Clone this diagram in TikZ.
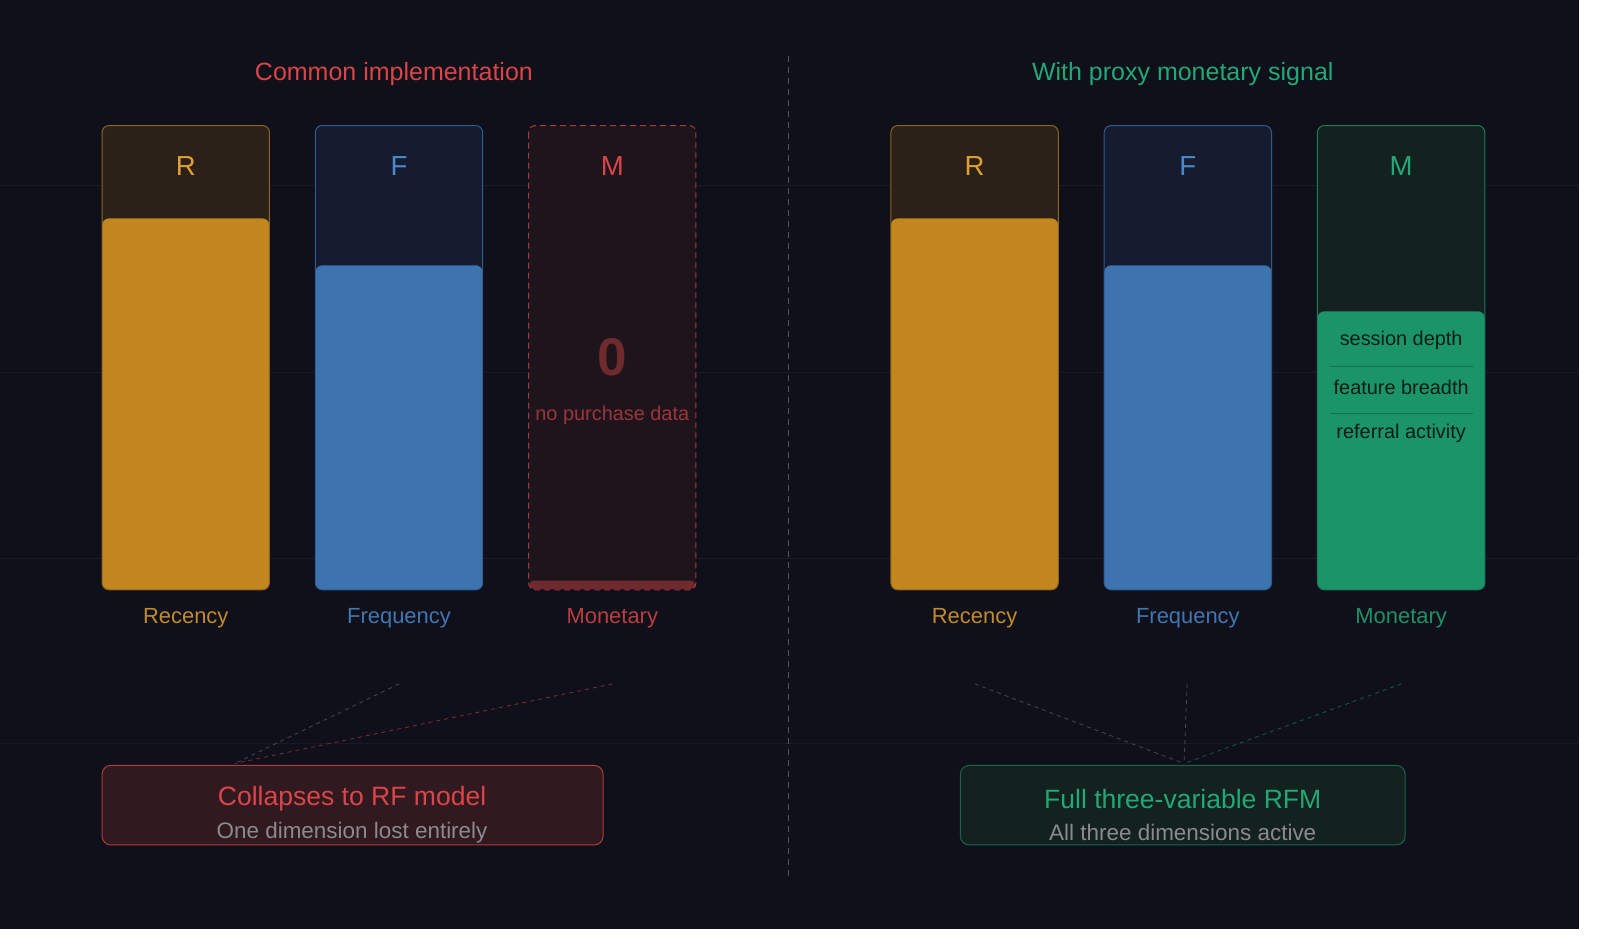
\documentclass[tikz,border=0pt]{standalone}
\usepackage{fontspec}
\setmainfont{Liberation Sans}
\begin{document}
\begin{tikzpicture}[x=1pt,y=-1pt,
  colbox/.style={rounded corners=7pt,line width=1pt},
  lab/.style={font=\fontsize{21.5}{23}\selectfont},
  hdr/.style={font=\fontsize{27}{29}\selectfont},
  conn/.style={dashed,dash pattern=on 4pt off 4pt,line width=0.8pt}]
\definecolor{bgd}{HTML}{0F1019}
\definecolor{ora}{HTML}{C4861F}\definecolor{orah}{HTML}{2C2119}\definecolor{orab}{HTML}{8A6520}\definecolor{orat}{HTML}{E0A030}
\definecolor{blu}{HTML}{3D74B0}\definecolor{bluh}{HTML}{161C2F}\definecolor{blub}{HTML}{2E5A8C}\definecolor{blut}{HTML}{4A88CC}
\definecolor{grn}{HTML}{1B946A}\definecolor{grnh}{HTML}{13211F}\definecolor{grnb}{HTML}{1B7A5A}\definecolor{grnt}{HTML}{22A876}
\definecolor{red}{HTML}{D94548}\definecolor{redh}{HTML}{1E141B}\definecolor{redd}{HTML}{6E2A2C}
\definecolor{gridc}{HTML}{191A23}\definecolor{grayt}{HTML}{8A8A8F}
\useasboundingbox (0,0) rectangle (1600,951);
\clip (0,0) rectangle (1600,951);
\fill[white] (0,0) rectangle (1600,951);
\begin{scope}[scale=1.0205,transform shape]
\fill[bgd] (0,0) rectangle (1547,910);
\foreach \y in {182,365,547,728} \draw[gridc,line width=0.8pt] (0,\y) -- (1547,\y);
\draw[gray!60!bgd,dashed,dash pattern=on 6pt off 5pt,line width=1pt] (773,55) -- (773,860);
\node[text=red,font=\fontsize{24.5}{26}\selectfont] (t1) at (386,73) {Common implementation};
\node[text=grnt,font=\fontsize{24.5}{26}\selectfont] (t2) at (1159,73) {With proxy monetary signal};
\newcommand{\mybar}[7]{%
  \fill[#4,rounded corners=7pt] (#1,123) rectangle ++(164,455);
  \fill[#3,rounded corners=7pt] (#1,#2) rectangle (#1+164,578);
  \draw[#5,colbox] (#1,123) rectangle ++(164,455);
  \node[hdr,text=#6] at (#1+82,163) {#7};}
\mybar{100}{214}{ora}{orah}{orab}{orat}{R}
\mybar{309}{260}{blu}{bluh}{blub}{blut}{F}
\mybar{873}{214}{ora}{orah}{orab}{orat}{R}
\mybar{1082}{260}{blu}{bluh}{blub}{blut}{F}
\mybar{1291}{305}{grn}{grnh}{grnb}{grnt}{M}
\fill[redh,rounded corners=7pt] (518,123) rectangle (682,578);
\fill[redd,rounded corners=4pt] (519,569) rectangle (681,577);
\draw[red!75!bgd,colbox,dashed,dash pattern=on 6pt off 4pt] (518,123) rectangle (682,578);
\node[hdr,text=red] at (600,163) {M};
\node[text=redd,font=\bfseries\fontsize{52}{56}\selectfont] (zero) at (600,350) {0};
\node[text=red!70!bgd,font=\fontsize{19.5}{21}\selectfont] at (600,407) {no purchase data};
\draw[black!25!grn,line width=0.7pt] (1303,359) -- (1443,359) (1303,405) -- (1443,405);
\node[font=\fontsize{19.5}{21}\selectfont,text=black!80!grn] at (1373,334) {session depth};
\node[font=\fontsize{19.5}{21}\selectfont,text=black!80!grn] at (1373,380) {feature breadth};
\node[font=\fontsize{19.5}{21}\selectfont,text=black!80!grn] at (1373,425) {referral activity};
\node[lab,text=orat!85!bgd] (l1) at (182,606) {Recency};
\node[lab,text=blut!85!bgd] (l2) at (391,606) {Frequency};
\node[lab,text=red!85!bgd] (l3) at (600,606) {Monetary};
\node[lab,text=orat!85!bgd] (l4) at (955,606) {Recency};
\node[lab,text=blut!85!bgd] (l5) at (1164,606) {Frequency};
\node[lab,text=grnt!85!bgd] (l6) at (1373,606) {Monetary};
\coordinate (a1) at (391,670); \coordinate (a2) at (600,670); \coordinate (p1) at (230,748);
\coordinate (b1) at (955,670); \coordinate (b2) at (1163,670); \coordinate (b3) at (1373,670); \coordinate (p2) at (1160,748);
\draw[conn,gray!50!bgd] (a1) -- (p1);
\draw[conn,red!55!bgd] (a2) -- (p1);
\draw[conn,gray!50!bgd] (b1) -- (p2);
\draw[conn,gray!50!bgd] (b2) -- (p2);
\draw[conn,grnb!70!bgd] (b3) -- (p2);
\draw[red!80!bgd,fill=redh!90!red,colbox,rounded corners=9pt] (100,750) rectangle (591,828);
\node[text=red,font=\fontsize{26}{28}\selectfont] (c1) at (345,783) {Collapses to RF model};
\node[text=grayt,font=\fontsize{22}{24}\selectfont] (c2) at (345,816) {One dimension lost entirely};
\draw[grnb!80!bgd,fill=grnh,colbox,rounded corners=9pt] (941,750) rectangle (1377,828);
\node[text=grnt,font=\fontsize{26}{28}\selectfont] (d1) at (1159,783) {Full three-variable RFM};
\node[text=grayt,font=\fontsize{22}{24}\selectfont] (d2) at (1159,816) {All three dimensions active};
\end{scope}
\end{tikzpicture}
\end{document}
